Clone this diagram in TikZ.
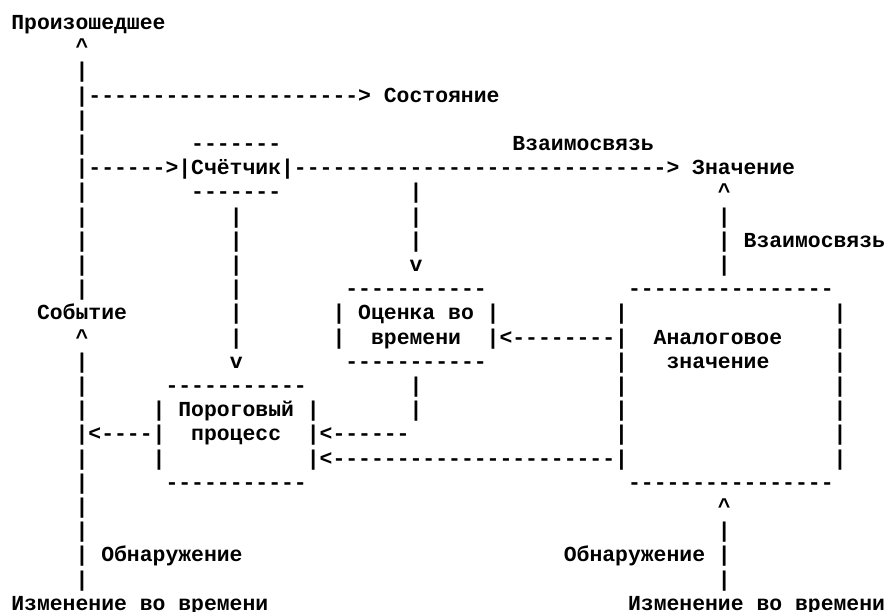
\documentclass[tikz,border=0pt]{standalone}
\usepackage{fontspec}
\setmonofont{Liberation Mono}
\ExplSyntaxOn
\cs_new:Npn \Dsh #1 {\prg_replicate:nn{#1}{-}}
\ExplSyntaxOff
\newcommand\Sp[1]{\hspace*{#1\fontcharwd\font`M}}
\newcommand\Car{\textasciicircum}
\tikzset{asc/.style={anchor=base west, inner sep=0pt, outer sep=0pt,
  font=\ttfamily\bfseries\fontsize{21.41pt}{24.2pt}\selectfont}}
\newcommand\Ln[2]{\node[asc] (l#1) at (11.35pt,{-29.5pt-24.2pt*(#1-1)}) {\frenchspacing #2};}
\begin{document}
\begin{tikzpicture}
\fill[white] (0,0) rectangle (888pt,-611pt);
\useasboundingbox (0,0) rectangle (888pt,-611pt);
\Ln{1}{Произошедшее}
\Ln{2}{\Sp{5}\Car}
\Ln{3}{\Sp{5}|}
\Ln{4}{\Sp{5}|\Dsh{21}>\Sp{1}Состояние}
\Ln{5}{\Sp{5}|}
\Ln{6}{\Sp{5}|\Sp{8}\Dsh{7}\Sp{18}Взаимосвязь}
\Ln{7}{\Sp{5}|\Dsh{6}>|Счётчик|\Dsh{29}>\Sp{1}Значение}
\Ln{8}{\Sp{5}|\Sp{8}\Dsh{7}\Sp{10}|\Sp{23}\Car}
\Ln{9}{\Sp{5}|\Sp{11}|\Sp{13}|\Sp{23}|}
\Ln{10}{\Sp{5}|\Sp{11}|\Sp{13}|\Sp{23}|\Sp{1}Взаимосвязь}
\Ln{11}{\Sp{5}|\Sp{11}|\Sp{13}v\Sp{23}|}
\Ln{12}{\Sp{5}|\Sp{11}|\Sp{8}\Dsh{11}\Sp{11}\Dsh{16}}
\Ln{13}{\Sp{2}Событие\Sp{8}|\Sp{7}|\Sp{1}Оценка\Sp{1}во\Sp{1}|\Sp{9}|\Sp{16}|}
\Ln{14}{\Sp{5}\Car\Sp{11}|\Sp{7}|\Sp{2}времени\Sp{2}|<\Dsh{8}|\Sp{2}Аналоговое\Sp{4}|}
\Ln{15}{\Sp{5}|\Sp{11}v\Sp{8}\Dsh{11}\Sp{10}|\Sp{3}значение\Sp{5}|}
\Ln{16}{\Sp{5}|\Sp{6}\Dsh{11}\Sp{8}|\Sp{15}|\Sp{16}|}
\Ln{17}{\Sp{5}|\Sp{5}|\Sp{1}Пороговый\Sp{1}|\Sp{7}|\Sp{15}|\Sp{16}|}
\Ln{18}{\Sp{5}|<\Dsh{4}|\Sp{2}процесс\Sp{2}|<\Dsh{6}\Sp{16}|\Sp{16}|}
\Ln{19}{\Sp{5}|\Sp{5}|\Sp{11}|<\Dsh{22}|\Sp{16}|}
\Ln{20}{\Sp{5}|\Sp{6}\Dsh{11}\Sp{25}\Dsh{16}}
\Ln{21}{\Sp{5}|\Sp{49}\Car}
\Ln{22}{\Sp{5}|\Sp{49}|}
\Ln{23}{\Sp{5}|\Sp{1}Обнаружение\Sp{25}Обнаружение\Sp{1}|}
\Ln{24}{\Sp{5}|\Sp{49}|}
\Ln{25}{Изменение\Sp{1}во\Sp{1}времени\Sp{28}Изменение\Sp{1}во\Sp{1}времени}
\end{tikzpicture}
\end{document}
